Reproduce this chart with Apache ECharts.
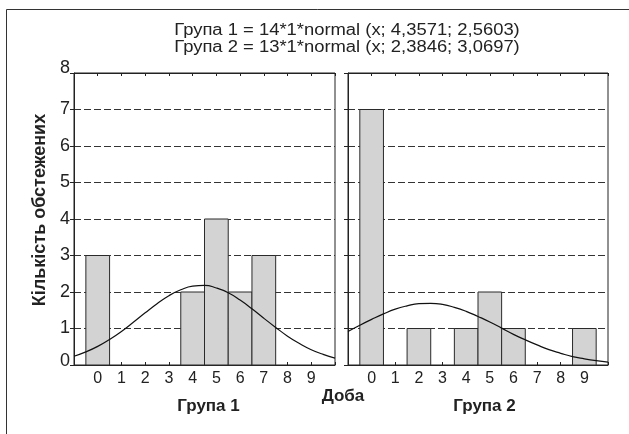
<!DOCTYPE html>
<html>
<head>
<meta charset="utf-8">
<script src="https://cdn.jsdelivr.net/npm/echarts@6/dist/echarts.min.js"></script>
<style>
html,body{margin:0;padding:0;background:#fff;}
#c{width:629px;height:434px;}
</style>
</head>
<body>
<div id="c"></div>
<script>
// ---- data ----
const bins = [0, 1, 2, 3, 4, 5, 6, 7, 8, 9];
const group1Counts = [3, 0, 0, 0, 2, 4, 2, 3, 0, 0];
const group2Counts = [7, 0, 1, 0, 1, 2, 1, 0, 0, 1];
const curveX = [-1, -0.5, 0, 0.5, 1, 1.5, 2, 2.5, 3, 3.5, 4, 4.5, 5, 5.5, 6, 6.5, 7, 7.5, 8, 8.5, 9, 9.5, 10];
const group1Curve = [0.24, 0.36, 0.51, 0.70, 0.92, 1.17, 1.43, 1.68, 1.90, 2.06, 2.16, 2.18, 2.11, 1.98, 1.78, 1.54, 1.28, 1.03, 0.79, 0.59, 0.42, 0.29, 0.19];
const group2Curve = [0.92, 1.09, 1.25, 1.40, 1.53, 1.62, 1.68, 1.69, 1.66, 1.58, 1.47, 1.33, 1.18, 1.01, 0.84, 0.69, 0.55, 0.42, 0.32, 0.23, 0.17, 0.12, 0.08];
const yTicks = [0, 1, 2, 3, 4, 5, 6, 7, 8];
const titleLines = ['Група 1 = 14*1*normal (x; 4,3571; 2,5603)', 'Група 2 = 13*1*normal (x; 2,3846; 3,0697)'];
const panelNames = ['Група 1', 'Група 2'];
const xName = 'Доба';
const yName = 'Кількість обстежених';

const FONT = "'Liberation Sans', Arial, sans-serif";
const INK = '#222';

const chart = echarts.init(document.getElementById('c'), null, {renderer: 'canvas'});

function xAxes(gi) {
  const base = {
    gridIndex: gi, type: 'value', min: -1, max: 10, interval: 1,
    axisLine: {show: true, onZero: false, lineStyle: {color: INK, width: 1}},
    axisTick: {show: true, inside: true, length: 3, lineStyle: {color: INK}},
    splitLine: {show: false}
  };
  return [
    Object.assign({}, base, {
      position: 'bottom',
      axisLabel: {
        show: true, margin: 6, color: INK, fontFamily: FONT, fontSize: 16,
        formatter: v => (bins.indexOf(v) >= 0 ? String(v) : '')
      }
    }),
    Object.assign({}, base, {position: 'top', axisLabel: {show: false}})
  ];
}

function yAxis(gi, showLabels) {
  return {
    gridIndex: gi, type: 'value', min: yTicks[0], max: yTicks[yTicks.length - 1], interval: 1,
    axisLine: {show: true, onZero: false, lineStyle: {color: INK, width: 1}},
    axisTick: {show: true, inside: false, length: 4, lineStyle: {color: INK}},
    axisLabel: {
      show: showLabels, margin: 4, color: INK, fontFamily: FONT, fontSize: 18,
      formatter: v => (v === 8 ? '{t|8}' : v === 0 ? '{b|0}' : String(v)),
      rich: {
        t: {fontFamily: FONT, fontSize: 18, color: INK, padding: [0, 0, 10, 0]},
        b: {fontFamily: FONT, fontSize: 18, color: INK, padding: [0, 0, 7, 0]}
      }
    },
    splitLine: {show: true, lineStyle: {color: '#333', type: [7, 3], width: 1}}
  };
}

function barSeries(counts, xi, yi) {
  return {
    type: 'custom', xAxisIndex: xi, yAxisIndex: yi,
    data: bins.map((b, i) => [b, counts[i]]).filter(d => d[1] > 0),
    renderItem: function (params, api) {
      const x = api.value(0), y = api.value(1);
      const p0 = api.coord([x - 0.5, y]);
      const p1 = api.coord([x + 0.5, 0]);
      return {
        type: 'rect',
        shape: {x: p0[0], y: p0[1], width: p1[0] - p0[0], height: p1[1] - p0[1]},
        style: {fill: '#d3d3d3', stroke: '#2a2a2a', lineWidth: 1}
      };
    },
    z: 3, silent: true
  };
}

function curveSeries(vals, xi, yi) {
  return {
    type: 'line', xAxisIndex: xi, yAxisIndex: yi,
    data: curveX.map((x, i) => [x, vals[i]]),
    smooth: true, showSymbol: false, symbol: 'none',
    lineStyle: {color: '#111', width: 1.2},
    z: 5, silent: true, animation: false
  };
}

const option = {
  animation: false,
  backgroundColor: '#fff',
  grid: [
    {left: 74, top: 73, width: 261, height: 292, show: true, borderColor: INK, borderWidth: 1, backgroundColor: 'transparent'},
    {left: 348, top: 73, width: 260, height: 292, show: true, borderColor: INK, borderWidth: 1, backgroundColor: 'transparent'}
  ],
  xAxis: xAxes(0).concat(xAxes(1)),
  yAxis: [yAxis(0, true), yAxis(1, false)],
  series: [
    barSeries(group1Counts, 0, 0),
    curveSeries(group1Curve, 0, 0),
    barSeries(group2Counts, 2, 1),
    curveSeries(group2Curve, 2, 1)
  ],
  graphic: [
    {type: 'polyline', shape: {points: [[629, 9.5], [6.5, 9.5], [6.5, 434]]}, style: {stroke: '#333', lineWidth: 1, fill: null}, silent: true},
    {type: 'text', x: 347, y: 31, scaleX: 1.15, style: {text: titleLines[0], font: '16px ' + FONT, fill: INK, textAlign: 'center', textVerticalAlign: 'middle'}},
    {type: 'text', x: 347, y: 48, scaleX: 1.15, style: {text: titleLines[1], font: '16px ' + FONT, fill: INK, textAlign: 'center', textVerticalAlign: 'middle'}},
    {type: 'text', x: 343, y: 396, style: {text: xName, font: 'bold 17px ' + FONT, fill: INK, textAlign: 'center', textVerticalAlign: 'middle'}},
    {type: 'text', x: 208.5, y: 406, style: {text: panelNames[0], font: 'bold 17px ' + FONT, fill: INK, textAlign: 'center', textVerticalAlign: 'middle'}},
    {type: 'text', x: 484.5, y: 406, style: {text: panelNames[1], font: 'bold 17px ' + FONT, fill: INK, textAlign: 'center', textVerticalAlign: 'middle'}},
    {type: 'text', x: 40, y: 210, rotation: Math.PI / 2, style: {text: yName, font: 'bold 18px ' + FONT, fill: INK, textAlign: 'center', textVerticalAlign: 'middle'}}
  ]
};
chart.setOption(option);
</script>
</body>
</html>
